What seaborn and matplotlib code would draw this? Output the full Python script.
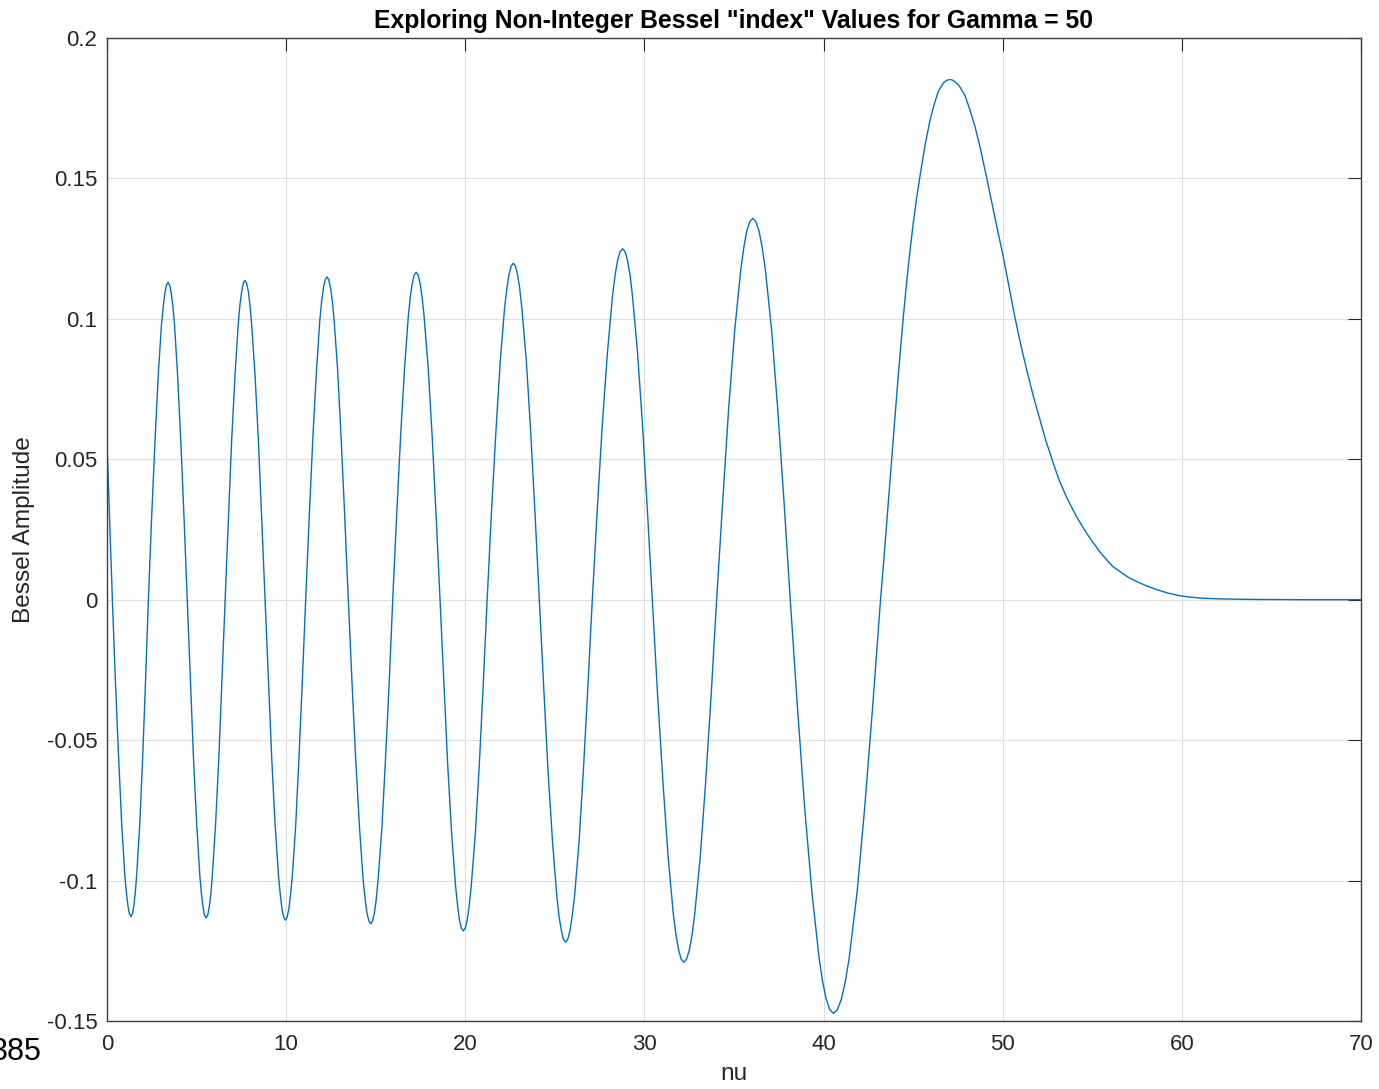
import numpy as np
import pandas as pd
import matplotlib
matplotlib.use("Agg")
import matplotlib.pyplot as plt
import seaborn as sns

# ---- data (J_nu(50) curve) ----
nu_a = [0.00, 0.15, 0.30, 0.47, 0.65, 0.82, 0.99, 1.17, 1.34, 1.50, 1.66, 1.83, 1.99, 2.15, 2.31,
        2.49, 2.68, 2.86, 3.04, 3.23, 3.41, 3.59, 3.77, 3.94, 4.12, 4.30, 4.48, 4.66, 4.83, 5.01,
        5.18, 5.36, 5.53, 5.71, 5.88, 6.06, 6.24, 6.41, 6.59, 6.78, 6.96, 7.15, 7.33, 7.52, 7.70,
        7.89, 8.07, 8.26, 8.45, 8.63]
amp_a = [0.0558, 0.0281, 0.0, -0.0292, -0.0564, -0.0798, -0.0977, -0.1090, -0.1128, -0.1090,
         -0.0977, -0.0798, -0.0564, -0.0292, 0.0, 0.0292, 0.0565, 0.0799, 0.0979, 0.1091, 0.1130,
         0.1091, 0.0979, 0.0799, 0.0565, 0.0292, 0.0, -0.0293, -0.0567, -0.0801, -0.0981, -0.1094,
         -0.1133, -0.1094, -0.0981, -0.0801, -0.0567, -0.0293, 0.0, 0.0294, 0.0569, 0.0804, 0.0985,
         0.1098, 0.1137, 0.1098, 0.0985, 0.0804, 0.0569, 0.0294]

nu_b = [8.82, 9.01, 9.20, 9.39, 9.58, 9.77, 9.96, 10.15, 10.34, 10.53, 10.71, 10.90, 11.09, 11.29,
        11.49, 11.69, 11.88, 12.08, 12.28, 12.48, 12.68, 12.88, 13.07, 13.27, 13.47, 13.68, 13.89,
        14.10, 14.30, 14.51, 14.72, 14.93, 15.13, 15.34, 15.54, 15.75, 15.95, 16.17, 16.39, 16.61,
        16.82, 17.04, 17.26, 17.48, 17.70, 17.93, 18.15, 18.37]
amp_b = [0.0, -0.0295, -0.0571, -0.0807, -0.0988, -0.1102, -0.1141, -0.1102, -0.0988, -0.0807,
         -0.0571, -0.0295, 0.0, 0.0297, 0.0575, 0.0812, 0.0995, 0.1110, 0.1149, 0.1110, 0.0995,
         0.0812, 0.0575, 0.0297, 0.0, -0.0299, -0.0577, -0.0816, -0.0999, -0.1115, -0.1154,
         -0.1115, -0.0999, -0.0816, -0.0577, -0.0299, 0.0, 0.0302, 0.0583, 0.0824, 0.1010, 0.1126,
         0.1166, 0.1126, 0.1010, 0.0824, 0.0583, 0.0302]

nu_c = [18.59, 18.81, 19.02, 19.24, 19.46, 19.67, 19.89, 20.11, 20.33, 20.56, 20.78, 21.00, 21.22,
        21.46, 21.71, 21.95, 22.19, 22.44, 22.68, 22.92, 23.16, 23.41, 23.65, 23.89, 24.13, 24.38,
        24.62, 24.87, 25.11, 25.36, 25.60, 25.85, 26.10, 26.35, 26.59, 26.84, 27.09, 27.37, 27.65,
        27.94, 28.22, 28.50, 28.78, 29.06, 29.33, 29.61, 29.89, 30.16]
amp_c = [0.0, -0.0305, -0.0590, -0.0834, -0.1021, -0.1139, -0.1179, -0.1139, -0.1021, -0.0834,
         -0.0590, -0.0305, 0.0, 0.0310, 0.0599, 0.0847, 0.1037, 0.1157, 0.1198, 0.1157, 0.1037,
         0.0847, 0.0599, 0.0310, 0.0, -0.0315, -0.0610, -0.0862, -0.1056, -0.1177, -0.1219,
         -0.1177, -0.1056, -0.0862, -0.0610, -0.0315, 0.0, 0.0324, 0.0625, 0.0884, 0.1083, 0.1207,
         0.1250, 0.1207, 0.1083, 0.0884, 0.0625, 0.0324]

nu_d = [30.44, 30.73, 31.03, 31.32, 31.61, 31.91, 32.20, 32.51, 32.81, 33.12, 33.42, 33.73, 34.03,
        34.37, 34.70, 35.04, 35.38, 35.71, 36.05, 36.40, 36.75, 37.10, 37.44, 37.79, 38.14, 38.54,
        38.94, 39.35, 39.75, 40.15, 40.55, 40.99, 41.43, 41.87, 42.30, 42.74]
amp_d = [0.0, -0.0334, -0.0646, -0.0913, -0.1118, -0.1247, -0.1291, -0.1247, -0.1118, -0.0913,
         -0.0646, -0.0334, 0.0, 0.0351, 0.0679, 0.0960, 0.1176, 0.1312, 0.1358, 0.1312, 0.1176,
         0.0960, 0.0679, 0.0351, 0.0, -0.0381, -0.0737, -0.1042, -0.1276, -0.1423, -0.1473,
         -0.1423, -0.1276, -0.1042, -0.0737, -0.0381]

nu_e = [43.18, 43.52, 43.80, 44.08, 44.45, 44.82, 45.19, 45.38, 45.94, 46.41, 46.70, 47.02, 47.30,
        47.62, 48.17, 48.73, 49.10, 49.48, 50.03, 50.69, 51.34, 52.08, 52.74, 53.57, 54.69, 55.40,
        56.17, 57.00, 58.04, 59.90, 61.00, 62.00, 64.00, 67.00, 70.00]
amp_e = [0.0, 0.0268, 0.0500, 0.0727, 0.1005, 0.1240, 0.1428, 0.1508, 0.1707, 0.1811, 0.1841,
         0.1852, 0.1846, 0.1825, 0.1744, 0.1613, 0.1504, 0.1387, 0.1221, 0.1003, 0.0818, 0.0640,
         0.0502, 0.0364, 0.0236, 0.0172, 0.0117, 0.0080, 0.0049, 0.0014, 0.0006, 0.0003, 0.0001,
         0.0, 0.0]

# extra readings near each crest / trough
nu_f = [1.08, 1.25, 1.42, 1.58, 3.14, 3.32, 3.50, 3.68, 5.27, 5.44, 5.62, 5.80,
        7.42, 7.61, 7.79, 7.98, 9.68, 9.87, 10.05, 10.24, 11.98, 12.18, 12.38, 12.58,
        14.41, 14.62, 14.82, 15.03, 16.93, 17.15, 17.37, 17.59, 19.57, 19.78, 20.00, 20.22,
        22.32, 22.56, 22.80, 23.04, 25.23, 25.48, 25.72, 25.97, 28.36, 28.64, 28.92, 29.20,
        31.76, 32.05, 32.35, 32.66, 35.55, 35.88, 36.22, 36.57, 39.95, 40.35, 40.77, 41.21]
amp_f = [-0.1042, -0.1118, -0.1118, -0.1042, 0.1044, 0.1120, 0.1120, 0.1044,
         -0.1047, -0.1123, -0.1123, -0.1047, 0.1050, 0.1127, 0.1127, 0.1050,
         -0.1054, -0.1131, -0.1131, -0.1054, 0.1062, 0.1139, 0.1139, 0.1062,
         -0.1066, -0.1144, -0.1144, -0.1066, 0.1077, 0.1156, 0.1156, 0.1077,
         -0.1089, -0.1169, -0.1169, -0.1089, 0.1107, 0.1188, 0.1188, 0.1107,
         -0.1126, -0.1209, -0.1209, -0.1126, 0.1155, 0.1239, 0.1239, 0.1155,
         -0.1193, -0.1280, -0.1280, -0.1193, 0.1255, 0.1346, 0.1346, 0.1255,
         -0.1361, -0.1460, -0.1460, -0.1361]

# extra readings on the last big lobe and its tail
nu_g = [43.35, 43.66, 43.94, 44.26, 44.63, 45.00, 45.66, 46.18, 46.86, 47.16, 47.46, 47.90, 48.45,
        49.29, 49.75, 50.36, 51.00, 51.70, 52.40, 53.10, 54.10, 55.80, 56.60, 57.50, 58.60, 59.20,
        60.50]
amp_g = [0.0131, 0.0384, 0.0615, 0.0867, 0.1126, 0.1337, 0.1617, 0.1765, 0.1849, 0.1851, 0.1837,
         0.1794, 0.1685, 0.1445, 0.1306, 0.1112, 0.0910, 0.0727, 0.0568, 0.0434, 0.0298, 0.0142,
         0.0098, 0.0064, 0.0036, 0.0024, 0.0009]

x_ticks = [0, 10, 20, 30, 40, 50, 60, 70]
y_ticks = [-0.15, -0.1, -0.05, 0, 0.05, 0.1, 0.15, 0.2]
y_tick_labels = ["-0.15", "-0.1", "-0.05", "0", "0.05", "0.1", "0.15", "0.2"]

title = 'Exploring Non-Integer Bessel "index" Values for Gamma = 50'
x_label = "nu"
y_label = "Bessel Amplitude"
stray_text = "385"

# ---- figure ----
sns.set_style("white")
plt.rcParams["font.family"] = ["Liberation Sans", "DejaVu Sans"]
plt.rcParams["axes.unicode_minus"] = False

W, H = 1379, 1089
fig = plt.figure(figsize=(W / 100, H / 100), dpi=100)
ax = fig.add_axes([107 / W, 1 - 1021 / H, (1361 - 107) / W, (1021 - 38) / H])

df = pd.DataFrame({
    "nu": nu_a + nu_b + nu_c + nu_d + nu_e + nu_f + nu_g,
    "amp": amp_a + amp_b + amp_c + amp_d + amp_e + amp_f + amp_g,
})
sns.lineplot(data=df, x="nu", y="amp", ax=ax, color="#0072BD", linewidth=1.0,
             estimator=None, sort=True)

ax.set_xlim(0, 70)
ax.set_ylim(-0.15, 0.2)
ax.set_xticks(x_ticks)
ax.set_xticklabels([str(t) for t in x_ticks])
ax.set_yticks(y_ticks)
ax.set_yticklabels(y_tick_labels)

ax.grid(True, color="#dedede", linewidth=0.8)
ax.set_axisbelow(True)
for s in ax.spines.values():
    s.set_visible(True)
    s.set_color("#404040")
    s.set_linewidth(1.0)

ax.tick_params(direction="in", top=True, right=True, length=9.4, width=0.8,
               colors="#262626", labelsize=16, pad=7)
ax.tick_params(axis="x", pad=9)

ax.set_xlabel(x_label, fontsize=17.6, color="#262626", labelpad=6)
ax.set_ylabel(y_label, fontsize=17.6, color="#262626", labelpad=8)
ax.set_title(title, fontsize=17.8, fontweight="bold", color="black", pad=7)

fig.text(42 / W, 1 - 1052 / H, stray_text, ha="right", va="center", fontsize=22, color="black")

fig.savefig("out.png", dpi=100)
